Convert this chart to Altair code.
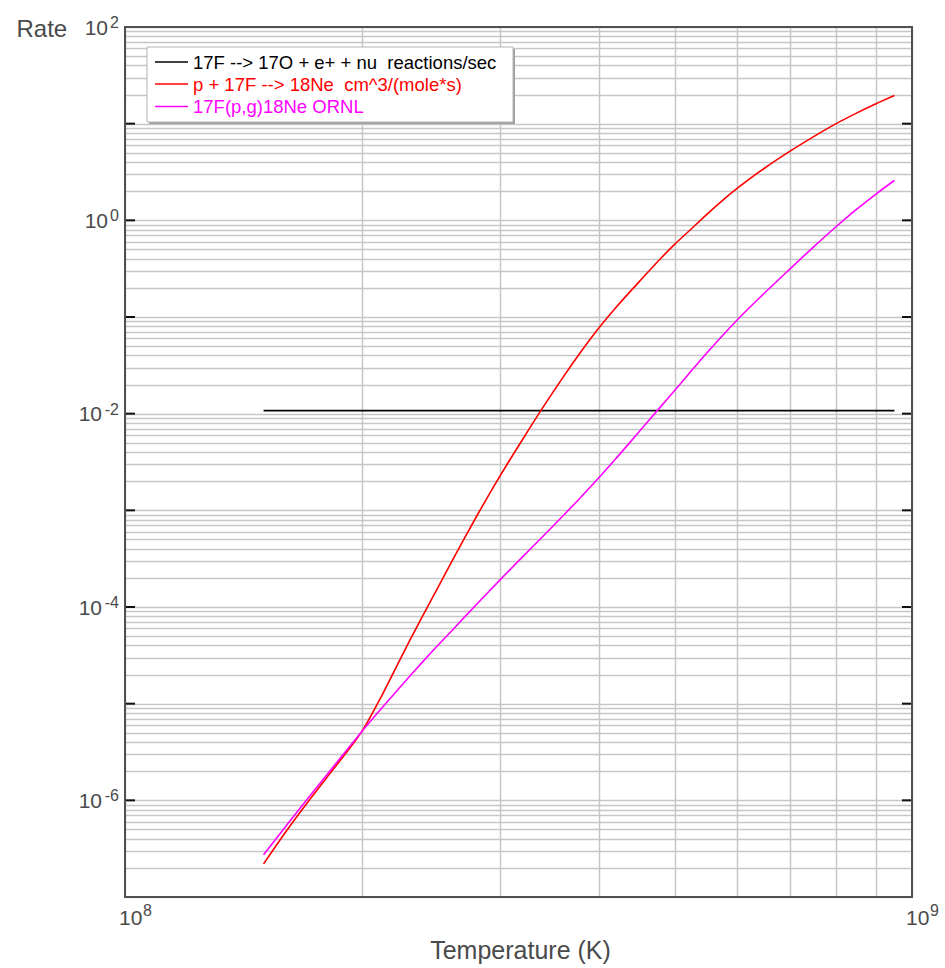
import altair as alt
import pandas as pd

# Plot area size in pixels
W, H = 787, 870

# Temperatures in units of 1e9 K (T9)
t9 = [0.15, 0.16, 0.17, 0.18, 0.19, 0.20, 0.21, 0.22, 0.23, 0.24, 0.25,
      0.26, 0.27, 0.28, 0.30, 0.32, 0.34, 0.36, 0.38, 0.40, 0.42, 0.45,
      0.48, 0.50, 0.52, 0.55, 0.58, 0.60, 0.65, 0.70, 0.75, 0.80, 0.85,
      0.90, 0.95]

# p + 17F --> 18Ne, cm^3/(mole*s)
rate_pf = [2.20e-7, 4.71e-7, 9.18e-7, 1.675e-6, 2.94e-6, 5.16e-6, 1.047e-5,
           2.20e-5, 4.48e-5, 8.65e-5, 1.61e-4, 2.93e-4, 5.16e-4, 8.79e-4,
           2.31e-3, 5.41e-3, 1.175e-2, 2.36e-2, 4.42e-2, 7.69e-2, 0.124,
           0.231, 0.408, 0.570, 0.767, 1.175, 1.72, 2.15, 3.48, 5.20, 7.35,
           9.95, 12.85, 16.07, 19.54]

# 17F(p,g)18Ne, ORNL evaluation
rate_ornl = [2.74e-7, 5.36e-7, 1.00e-6, 1.79e-6, 3.09e-6, 5.16e-6, 8.24e-6,
             1.276e-5, 1.92e-5, 2.82e-5, 4.04e-5, 5.65e-5, 7.85e-5, 1.074e-4,
             1.93e-4, 3.30e-4, 5.43e-4, 8.73e-4, 1.384e-3, 2.17e-3, 3.39e-3,
             6.49e-3, 1.197e-2, 1.76e-2, 2.56e-2, 4.34e-2, 7.00e-2, 9.38e-2,
             0.178, 0.315, 0.532, 0.853, 1.297, 1.871, 2.588]

# 17F beta decay, reactions/sec (temperature independent)
beta_t9 = [0.15, 0.95]
beta_rate = [1.075e-2, 1.075e-2]

series_names = [
    "17F --> 17O + e+ + nu \u00a0reactions/sec",
    "p + 17F --> 18Ne \u00a0cm^3/(mole*s)",
    "17F(p,g)18Ne ORNL",
]
series_colors = ["#000000", "#ff0000", "#ff00ff"]

# labelled decades on each axis
y_label_values = [1e2, 1e0, 1e-2, 1e-4, 1e-6]
y_label_exps = ["2", "0", "-2", "-4", "-6"]
x_label_values = [1e8, 1e9]
x_label_exps = ["8", "9"]

rows = []
for t, r in zip(beta_t9, beta_rate):
    rows.append({"T": t * 1e9, "rate": r, "series": series_names[0]})
for t, r in zip(t9, rate_pf):
    rows.append({"T": t * 1e9, "rate": r, "series": series_names[1]})
for t, r in zip(t9, rate_ornl):
    rows.append({"T": t * 1e9, "rate": r, "series": series_names[2]})
df = pd.DataFrame(rows)

# grid positions: every 1..9 x 10^n
x_grid = [k * 1e8 for k in range(1, 11)]
y_grid = [k * 10.0 ** e for e in range(-7, 2) for k in range(1, 10)] + [1e2]
decades = pd.DataFrame({"v": [10.0 ** e for e in range(-6, 2)]})
single = pd.DataFrame({"k": [0]})
y_labels = pd.DataFrame({"v": y_label_values, "exp": y_label_exps})
x_labels = pd.DataFrame({"v": x_label_values, "exp": x_label_exps})

TEXT = "#4a4a4a"
FONT = "Liberation Sans"

x_scale = alt.Scale(type="log", domain=[1e8, 1e9], nice=False)
y_scale = alt.Scale(type="log", domain=[1e-7, 1e2], nice=False)

x_axis = alt.Axis(
    values=x_grid, grid=True, gridColor="#c6c6c6", gridWidth=1.5,
    ticks=False, tickSize=0, domain=False, labels=False,
    title="Temperature (K)", titleFontSize=25, titleFontWeight="normal",
    titleColor=TEXT, titleBaseline="alphabetic", titleY=61, titleX=395,
)
y_axis = alt.Axis(
    values=y_grid, grid=True, gridColor="#c6c6c6", gridWidth=1.5,
    ticks=False, tickSize=0, domain=False, labels=False,
    title="Rate", titleAngle=0, titleAlign="left", titleBaseline="alphabetic",
    titleX=-109, titleY=9, titleFontSize=24, titleFontWeight="normal",
    titleColor=TEXT,
)

lines = alt.Chart(df).mark_line(strokeWidth=1.6, interpolate="monotone").encode(
    x=alt.X("T:Q", scale=x_scale, axis=x_axis),
    y=alt.Y("rate:Q", scale=y_scale, axis=y_axis),
    color=alt.Color("series:N", scale=alt.Scale(domain=series_names, range=series_colors), legend=None),
    detail="series:N",
)

# inward decade ticks on both sides of the frame
tick_left = alt.Chart(decades).mark_rule(color="#111111", strokeWidth=2).encode(
    y=alt.Y("v:Q", scale=y_scale), x=alt.value(0), x2=alt.value(10))
tick_right = alt.Chart(decades).mark_rule(color="#111111", strokeWidth=2).encode(
    y=alt.Y("v:Q", scale=y_scale), x=alt.value(W - 10), x2=alt.value(W))

# power-of-ten tick labels: "10" plus a raised exponent
y_exp = alt.Chart(y_labels).mark_text(
    fontSize=16, font=FONT, color=TEXT, align="right", baseline="alphabetic", dy=1
).encode(y=alt.Y("v:Q", scale=y_scale), x=alt.value(-6), text="exp:N")
y_base_short = alt.Chart(y_labels).transform_filter("length(datum.exp) == 1").mark_text(
    text="10", fontSize=21, font=FONT, color=TEXT, align="right", baseline="alphabetic", dy=7.5
).encode(y=alt.Y("v:Q", scale=y_scale), x=alt.value(-17))
y_base_long = alt.Chart(y_labels).transform_filter("length(datum.exp) == 2").mark_text(
    text="10", fontSize=21, font=FONT, color=TEXT, align="right", baseline="alphabetic", dy=7.5
).encode(y=alt.Y("v:Q", scale=y_scale), x=alt.value(-23))
x_base = alt.Chart(x_labels).mark_text(
    text="10", fontSize=21, font=FONT, color=TEXT, align="left", baseline="alphabetic", dx=-6
).encode(x=alt.X("v:Q", scale=x_scale), y=alt.value(H + 28))
x_exp = alt.Chart(x_labels).mark_text(
    fontSize=16, font=FONT, color=TEXT, align="left", baseline="alphabetic", dx=18
).encode(x=alt.X("v:Q", scale=x_scale), y=alt.value(H + 19), text="exp:N")

frame = alt.Chart(single).mark_rect(filled=False, stroke="#505050", strokeWidth=2).encode(
    x=alt.value(0), x2=alt.value(W), y=alt.value(0), y2=alt.value(H))

# legend box
box_shadow = alt.Chart(single).mark_rect(fill="#a0a0a0").encode(
    x=alt.value(24), x2=alt.value(390), y=alt.value(22), y2=alt.value(97))
box = alt.Chart(single).mark_rect(fill="white", stroke="#b4b4b4", strokeWidth=1).encode(
    x=alt.value(22), x2=alt.value(388), y=alt.value(20), y2=alt.value(95))

legend_layers = []
row_y = [35, 57, 79.5]
for name, col, ry in zip(series_names, series_colors, row_y):
    legend_layers.append(
        alt.Chart(single).mark_rule(color=col, strokeWidth=1.6).encode(
            x=alt.value(30), x2=alt.value(63), y=alt.value(ry)))
    legend_layers.append(
        alt.Chart(single).mark_text(
            text=name, color=col, fontSize=18.5, font=FONT, align="left", baseline="middle"
        ).encode(x=alt.value(68), y=alt.value(ry + 0.5)))

chart = alt.layer(
    lines, tick_left, tick_right, y_exp, y_base_short, y_base_long, x_base, x_exp,
    box_shadow, box, *legend_layers, frame
).properties(
    width=W, height=H,
    autosize=alt.AutoSizeParams(type="none"),
    padding={"left": 125, "top": 27, "right": 33, "bottom": 71},
    background="white",
).configure_view(strokeWidth=0).configure(font=FONT)

chart.save("out.html", embed_options={"renderer": "svg", "actions": False})
